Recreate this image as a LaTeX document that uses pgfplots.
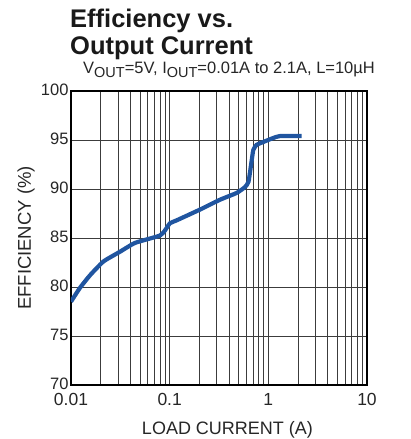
\documentclass[border=0pt]{standalone}
\usepackage{pgfplots}
\pgfplotsset{compat=1.18}
\usepackage{fontspec}
\setmainfont{Liberation Sans}
\definecolor{curveblue}{RGB}{32,85,160}
\definecolor{gridgray}{RGB}{60,60,60}
\begin{document}
\begin{tikzpicture}
\useasboundingbox (-71pt,-54pt) rectangle (340pt,385pt);
\begin{axis}[
  at={(0pt,0pt)}, anchor=south west,
  scale only axis, width=296pt, height=294pt,
  xmode=log, xmin=0.01, xmax=10, ymin=70, ymax=100,
  xtick={0.01,0.1,1,10}, xticklabels={0.01,0.1,1,10},
  ytick={70,75,80,85,90,95,100},
  grid=both,
  major grid style={draw=gridgray, line width=0.8pt},
  minor grid style={draw=gridgray, line width=0.8pt},
  tick style={draw=none},
  axis line style={draw=black, line width=1.6pt},
  /pgf/number format/assume math mode=true,
  yticklabel style={font=\fontsize{16.5}{16.5}\selectfont, text=black!85, xshift=1pt, yshift=1pt},
  xticklabel style={font=\fontsize{17.5}{17.5}\selectfont, text=black!85, yshift=-5pt},
]
\addplot[curveblue, line width=4.2pt, smooth, tension=0.3] coordinates {
(0.01,78.5) (0.0123,79.9) (0.0156,81.2) (0.0213,82.6) (0.0314,83.6)
(0.0446,84.5) (0.0797,85.25) (0.09,85.8) (0.1006,86.5) (0.1176,86.8)
(0.203,87.9) (0.323,88.9) (0.478,89.6) (0.58,90.2) (0.63,90.75)
(0.68,93.0) (0.705,94.0) (0.76,94.5) (0.89,94.8) (1.12,95.2)
(1.31,95.4) (2.18,95.4)
};
\end{axis}
\node[anchor=base west, inner sep=0pt, font=\fontsize{25.5}{25.5}\selectfont\bfseries, text=black!90] at (-1pt,357pt) {Efficiency vs.};
\node[anchor=base west, inner sep=0pt, font=\fontsize{25.5}{25.5}\selectfont\bfseries, text=black!90] at (-1pt,330pt) {Output Current};
\node[anchor=base west, font=\fontsize{16.5}{16.5}\selectfont, text=black!85, inner sep=0pt] at (12pt,311pt) {V\raisebox{-3.5pt}{\fontsize{14.5}{14.5}\selectfont OUT}=5V, I\raisebox{-3.5pt}{\fontsize{14.5}{14.5}\selectfont OUT}=0.01A to 2.1A, L=10µH};
\node[rotate=90, font=\fontsize{18.5}{18.5}\selectfont, text=black!85] at (-45pt,147pt) {EFFICIENCY (\%)};
\node[anchor=base, font=\fontsize{18}{18}\selectfont, text=black!85] at (156.5pt,-49.5pt) {LOAD CURRENT (A)};
\end{tikzpicture}
\end{document}
